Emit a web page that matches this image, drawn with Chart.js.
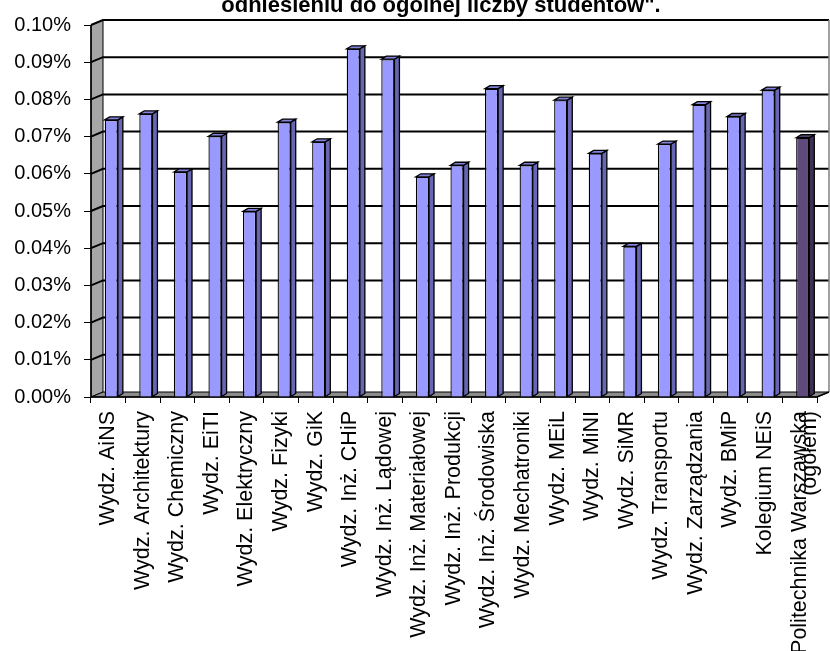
<!DOCTYPE html>
<html>
<head>
<meta charset="utf-8">
<script src="https://cdn.jsdelivr.net/npm/chart.js@4.4.0/dist/chart.umd.min.js"></script>
<style>
    body { margin: 0; background: #fff; }
    #wrap { width: 830px; height: 651px; }
</style>
</head>
<body>
<div id="wrap"><canvas id="grafico"></canvas></div>
<script>
const wydzialy = [
    'Wydz. AiNS', 'Wydz. Architektury', 'Wydz. Chemiczny', 'Wydz. EiTI', 'Wydz. Elektryczny',
    'Wydz. Fizyki', 'Wydz. GiK', 'Wydz. Inż. CHiP', 'Wydz. Inż. Lądowej', 'Wydz. Inż. Materiałowej',
    'Wydz. Inż. Produkcji', 'Wydz. Inż. Środowiska', 'Wydz. Mechatroniki', 'Wydz. MEiL', 'Wydz. MiNI',
    'Wydz. SiMR', 'Wydz. Transportu', 'Wydz. Zarządzania', 'Wydz. BMiP', 'Kolegium NEiS',
    ['Politechnika Warszawska', '(ogółem)']
];

// udział w ogólnej liczbie studentów (ułamek, 0.001 = 0.10%)
const odsetek = [
    0.000745, 0.000761, 0.000605, 0.000701, 0.000499,
    0.000739, 0.000686, 0.000936, 0.000908, 0.000592,
    0.000623, 0.000829, 0.000623, 0.000798, 0.000655,
    0.000405, 0.000680, 0.000786, 0.000754, 0.000825,
    0.000697
];

const osY = { min: 0, max: 0.001, krok: 0.0001 };

const tytul = 'odniesieniu do ogólnej liczby studentów".';

const ostatni = wydzialy.length - 1;
const kolorPrzod = wydzialy.map((w, i) => i === ostatni ? '#604a7b' : '#9999ff');
const kolorBok = wydzialy.map((w, i) => i === ostatni ? '#3e3050' : '#6666b3');
const kolorGora = wydzialy.map((w, i) => i === ostatni ? '#55436d' : '#8383dd');

const SCIANA = { dx: 12, dy: 5 };
const SLUP = { dx: 5, dy: 3, przesun: 3 };

function wielokat(ctx, punkty) {
    ctx.beginPath();
    punkty.forEach(([x, y], i) => i ? ctx.lineTo(x, y) : ctx.moveTo(x, y));
    ctx.closePath();
}

const efekt3d = {
    id: 'efekt3d',
    beforeDatasetsDraw(chart) {
        const { ctx, chartArea: a, scales: { y } } = chart;
        const { dx, dy } = SCIANA;
        ctx.save();
        ctx.strokeStyle = '#000';
        ctx.lineWidth = 1;

        // lewa ściana
        ctx.fillStyle = '#a6a6a6';
        wielokat(ctx, [[a.left, a.top], [a.left + dx, a.top - dy], [a.left + dx, a.bottom - dy], [a.left, a.bottom]]);
        ctx.fill();
        ctx.stroke();

        // podłoga
        ctx.fillStyle = '#8c8c8c';
        wielokat(ctx, [[a.left, a.bottom], [a.left + dx, a.bottom - dy], [a.right + dx, a.bottom - dy], [a.right, a.bottom]]);
        ctx.fill();
        ctx.stroke();

        // linie siatki na ścianach
        ctx.lineWidth = 2;
        y.ticks.forEach(t => {
            const py = y.getPixelForValue(t.value);
            if (t.value <= 0) return;
            ctx.beginPath();
            ctx.moveTo(a.left, py);
            ctx.lineTo(a.left + dx, py - dy);
            ctx.lineTo(a.right + dx, py - dy);
            ctx.stroke();
        });

        // prawa krawędź tylnej ściany
        ctx.strokeStyle = '#808080';
        ctx.lineWidth = 1.5;
        ctx.beginPath();
        ctx.moveTo(a.right + dx, a.top - dy);
        ctx.lineTo(a.right + dx, a.bottom - dy);
        ctx.stroke();

        // przednie krawędzie
        ctx.strokeStyle = '#000';
        ctx.lineWidth = 1.5;
        ctx.beginPath();
        ctx.moveTo(a.left, a.top);
        ctx.lineTo(a.left, a.bottom);
        ctx.lineTo(a.right, a.bottom);
        ctx.lineTo(a.right + dx, a.bottom - dy);
        ctx.stroke();
        ctx.restore();

        ctx.save();
        ctx.translate(SLUP.przesun, 0);
    },
    afterDatasetsDraw(chart) {
        const { ctx } = chart;
        const { dx, dy } = SLUP;
        ctx.strokeStyle = '#000';
        ctx.lineWidth = 1.3;
        chart.getDatasetMeta(0).data.forEach((bar, i) => {
            const { x, y, base, width } = bar.getProps(['x', 'y', 'base', 'width'], true);
            const l = x - width / 2, r = x + width / 2;
            ctx.fillStyle = kolorBok[i];
            wielokat(ctx, [[r, y], [r + dx, y - dy], [r + dx, base - dy], [r, base]]);
            ctx.fill();
            ctx.stroke();
            ctx.fillStyle = kolorGora[i];
            wielokat(ctx, [[l, y], [l + dx, y - dy], [r + dx, y - dy], [r, y]]);
            ctx.fill();
            ctx.stroke();
        });
        ctx.restore();
    },
    afterDraw(chart) {
        const { ctx } = chart;
        ctx.save();
        ctx.fillStyle = '#000';
        ctx.font = 'bold 22px "Liberation Sans", Arial, sans-serif';
        ctx.textAlign = 'center';
        ctx.textBaseline = 'alphabetic';
        ctx.fillText(tytul, 441, 12);
        ctx.restore();
    }
};

const czcionka = { family: '"Liberation Sans", Arial, sans-serif', size: 20 };

new Chart(document.getElementById('grafico'), {
    type: 'bar',
    data: {
        labels: wydzialy,
        datasets: [{
            data: odsetek,
            backgroundColor: kolorPrzod,
            borderColor: '#000',
            borderWidth: 1.3,
            barPercentage: 0.38,
            categoryPercentage: 1
        }]
    },
    options: {
        responsive: true,
        maintainAspectRatio: false,
        animation: false,
        layout: { padding: { top: 19, right: 13, left: 0, bottom: 0 } },
        plugins: {
            legend: { display: false },
            tooltip: { enabled: false },
            title: { display: false }
        },
        scales: {
            x: {
                afterFit: (scale) => { scale.height = 254; },
                grid: { drawOnChartArea: false, tickLength: 6, color: '#000', tickColor: '#000', offset: true },
                border: { display: false },
                ticks: {
                    autoSkip: false,
                    minRotation: 90,
                    maxRotation: 90,
                    padding: 8,
                    color: '#000',
                    font: { ...czcionka, size: 21.5, lineHeight: 0.5 }
                }
            },
            y: {
                min: osY.min,
                max: osY.max,
                afterFit: (scale) => { scale.width = 91; },
                grid: { drawOnChartArea: false, tickLength: 7, color: '#000', tickColor: '#000' },
                border: { display: false },
                ticks: {
                    stepSize: osY.krok,
                    padding: 13,
                    color: '#000',
                    font: czcionka,
                    callback: (v) => (v * 100).toFixed(2) + '%'
                }
            }
        }
    },
    plugins: [efekt3d]
});
</script>
</body>
</html>
